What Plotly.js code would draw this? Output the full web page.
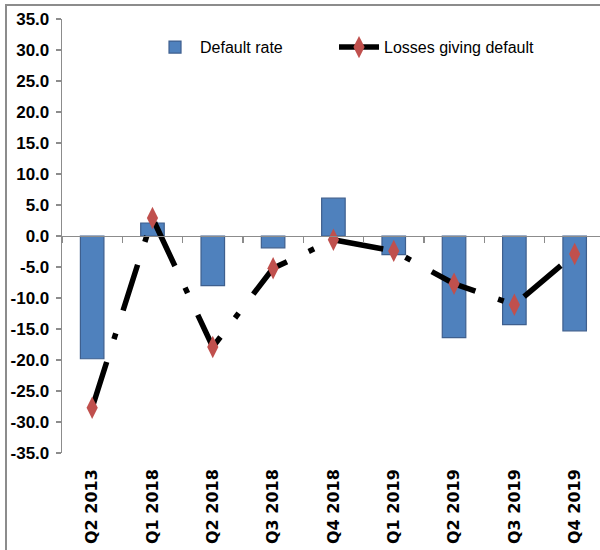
<!DOCTYPE html>
<html>
<head>
<meta charset="utf-8">
<script src="https://cdn.plot.ly/plotly-3.0.1.min.js"></script>
<style>
  html, body { margin: 0; padding: 0; background: #fff; }
  #wrap { position: relative; width: 600px; height: 550px; overflow: hidden; }
  #chart { width: 600px; height: 550px; }
  #frame { position: absolute; left: 5px; top: 4px; width: 620px; height: 580px;
           border-left: 2px solid #8c8c8c; border-top: 2px solid #8c8c8c; pointer-events: none; }
</style>
</head>
<body>
<div id="wrap"><div id="chart"></div><div id="frame"></div></div>
<script>
const categories = ["Q2 2013", "Q1 2018", "Q2 2018", "Q3 2018", "Q4 2018", "Q1 2019", "Q2 2019", "Q3 2019", "Q4 2019"];
const defaultRate = [-19.8, 2.1, -8.0, -1.9, 6.1, -3.0, -16.4, -14.3, -15.3];
const lossesGivingDefault = [-27.7, 2.9, -17.9, -5.2, -0.6, -2.4, -7.7, -11.1, -2.9];
const yTickVals = [35, 30, 25, 20, 15, 10, 5, 0, -5, -10, -15, -20, -25, -30, -35];
const yTickText = yTickVals.map(v => v.toFixed(1));

const traces = [
  {
    type: "bar", name: "Default rate", x: categories, y: defaultRate,
    xaxis: "x", yaxis: "y", width: 0.39, legend: "legend",
    marker: { color: "#4F81BD", line: { color: "#3E5F8E", width: 1.2 } },
    hoverinfo: "x+y"
  },
  {
    type: "scatter", mode: "lines+markers", name: "Losses giving default",
    x: categories, y: lossesGivingDefault, xaxis: "x", yaxis: "y", legend: "legend2",
    line: { color: "#000000", width: 5.5, dash: "48px,24px,6px,24px" },
    marker: { symbol: "diamond-tall", size: 16, color: "#C0504D", line: { width: 0 } }
  },
  {
    type: "scatter", mode: "markers", x: categories, y: lossesGivingDefault,
    xaxis: "x2", yaxis: "y", marker: { opacity: 0 }, showlegend: false, hoverinfo: "skip"
  }
];

const legendFont = { family: "Liberation Sans, Arial, sans-serif", size: 16, color: "#000" };

const layout = {
  width: 600, height: 550,
  margin: { l: 62, r: 0, t: 19, b: 97, pad: 0 },
  paper_bgcolor: "#ffffff", plot_bgcolor: "#ffffff",
  showlegend: true,
  legend: {
    orientation: "h", x: 0.1636, xanchor: "left", y: 0.935, yanchor: "middle",
    font: legendFont, bgcolor: "rgba(0,0,0,0)", itemwidth: 40
  },
  legend2: {
    orientation: "h", x: 0.5056, xanchor: "left", y: 0.935, yanchor: "middle",
    font: legendFont, bgcolor: "rgba(0,0,0,0)", itemwidth: 40
  },
  xaxis: {
    type: "category", range: [-0.5, 8.42], anchor: "free", position: 0.5,
    showline: true, linecolor: "#8c8c8c", linewidth: 1.3,
    ticks: "outside", tickson: "boundaries", ticklen: 6, tickcolor: "#8c8c8c", tickwidth: 1.3,
    showticklabels: false, showgrid: false, zeroline: false, fixedrange: true
  },
  xaxis2: {
    type: "category", overlaying: "x", anchor: "y", side: "bottom", range: [-0.5, 8.42],
    showline: false, ticks: "", showgrid: false, zeroline: false,
    tickangle: -90, ticklabelstandoff: 12,
    tickfont: { family: "DejaVu Sans, sans-serif", size: 16, color: "#000", weight: "bold" }
  },
  yaxis: {
    range: [-35, 35], tickvals: yTickVals, ticktext: yTickText,
    showline: true, linecolor: "#8c8c8c", linewidth: 1.3,
    ticks: "outside", ticklen: 5, tickcolor: "#8c8c8c", tickwidth: 1.3,
    showgrid: false, zeroline: false, ticklabelstandoff: 3,
    tickfont: { family: "Liberation Sans, Arial, sans-serif", size: 17, color: "#000", weight: "bold" }
  }
};

Plotly.newPlot("chart", traces, layout, { displayModeBar: false, staticPlot: true });
</script>
</body>
</html>
